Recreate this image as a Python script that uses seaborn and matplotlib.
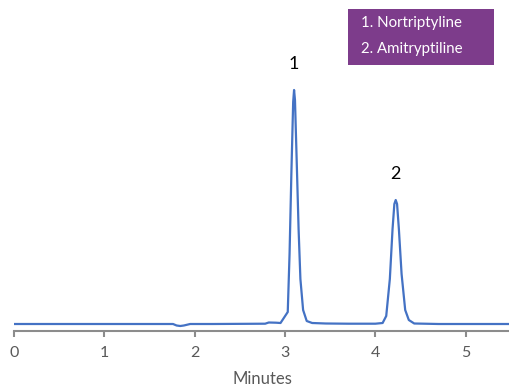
import matplotlib
matplotlib.use("Agg")
import matplotlib.pyplot as plt
import pandas as pd
import seaborn as sns

# Chromatogram trace: retention time (min) and detector response (arbitrary units)
time_min = [0.00, 0.50, 1.00, 1.50, 1.76, 1.80, 1.84, 1.88, 1.95, 2.20, 2.60, 2.78,
            2.82, 2.90, 2.95, 3.03, 3.05, 3.07, 3.09, 3.10, 3.11, 3.13, 3.15, 3.17,
            3.20, 3.24, 3.30, 3.45, 3.70, 4.00, 4.08, 4.12, 4.16, 4.19, 4.21, 4.225,
            4.24, 4.26, 4.29, 4.33, 4.37, 4.43, 4.70, 5.00, 5.49]
response = [0.0, 0.0, 0.0, 0.0, 0.0, -1.5, -2.0, -1.5, 0.0, 0.0, 0.2, 0.3,
            1.5, 1.3, 1.0, 12.0, 70.0, 150.0, 222.0, 234.0, 224.0, 160.0, 95.0, 45.0,
            14.0, 3.0, 1.0, 0.5, 0.3, 0.3, 1.0, 8.0, 45.0, 95.0, 120.0, 124.0,
            120.0, 95.0, 50.0, 14.0, 4.0, 0.5, 0.0, 0.0, 0.0]

peak_labels = ["1", "2"]
peak_times = [3.10, 4.225]
peak_heights = [234.0, 124.0]
legend_lines = ["1. Nortriptyline", "2. Amitryptiline"]
x_ticks = [0, 1, 2, 3, 4, 5]

trace = pd.DataFrame({"Minutes": time_min, "Response": response})

sns.set_style("white")
plt.rcParams["font.family"] = ["Lato", "DejaVu Sans"]

fig = plt.figure(figsize=(5.10, 3.87), dpi=100)
ax = fig.add_axes([14 / 510, (387 - 331) / 387, 1 - 14 / 510, (331 - 60) / 387])

sns.lineplot(data=trace, x="Minutes", y="Response", ax=ax,
             color="#4472C4", linewidth=1.6, estimator=None, sort=False)

ax.set_xlim(0, 5.49)
ax.set_ylim(-7, 264)
ax.set_yticks([])
ax.set_xticks(x_ticks)
ax.set_xticklabels([str(t) for t in x_ticks])
for side in ("top", "right", "left"):
    ax.spines[side].set_visible(False)
ax.spines["bottom"].set_color("#8C8C8C")
ax.spines["bottom"].set_linewidth(1.5)
ax.tick_params(axis="x", direction="out", length=4, width=1.5, color="#8C8C8C",
               labelcolor="#595959", labelsize=11.5, pad=7, bottom=True)
ax.set_xlabel("Minutes", fontsize=12, color="#595959", labelpad=8)
ax.set_ylabel("")

# Peak numbers above each apex
for lab, t, h in zip(peak_labels, peak_times, peak_heights):
    ax.annotate(lab, xy=(t, h), xytext=(0, 13), textcoords="offset points",
                ha="center", va="bottom", fontsize=13, color="black")

# Compound key in a filled box at the top right
key = fig.add_axes([348 / 510, 1 - 65 / 387, 146 / 510, 56 / 387])
key.set_facecolor("#7D3C8B")
key.set_xticks([])
key.set_yticks([])
for s in key.spines.values():
    s.set_visible(False)
for i, line in enumerate(legend_lines):
    key.text(13 / 146, 1 - (14 + 26.5 * i) / 56, line, transform=key.transAxes,
             ha="left", va="center", fontsize=10.8, color="white")

fig.savefig("out.png", dpi=100)
